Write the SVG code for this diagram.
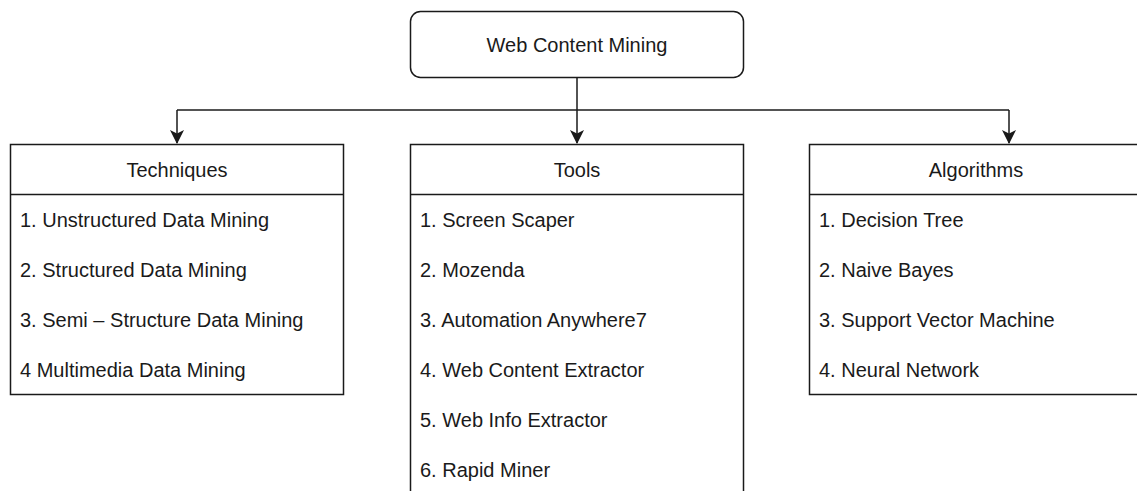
<svg xmlns="http://www.w3.org/2000/svg" width="1137" height="491" viewBox="0 0 1137 491">
<style>
.box{fill:#fff;stroke:#1a1a1a;stroke-width:1.5}
.ln{fill:none;stroke:#1a1a1a;stroke-width:1.5}
text{font-family:"Liberation Sans",Arial,sans-serif;font-size:20px;fill:#1a1a1a}
.c{text-anchor:middle}
</style>
<defs>
<marker id="arr" viewBox="0 0 14 14" refX="13" refY="7" markerWidth="14" markerHeight="14" markerUnits="userSpaceOnUse" orient="auto">
<path d="M0,0 L14,7 L0,14 L3.5,7 Z" fill="#1a1a1a"/>
</marker>
</defs>
<g id="connectors">
<path class="ln" d="M577,78 V143" marker-end="url(#arr)"/>
<path class="ln" d="M177,110 H1009"/>
<path class="ln" d="M177,110 V143" marker-end="url(#arr)"/>
<path class="ln" d="M1009,110 V143" marker-end="url(#arr)"/>
</g>
<g id="web-content-mining">
<rect class="box" x="410.5" y="11.5" width="333" height="66" rx="10"/>
<text class="c" x="577" y="52">Web Content Mining</text>
</g>
<g id="techniques">
<rect class="box" x="10.5" y="144.5" width="333" height="250"/>
<line class="ln" x1="10.5" y1="194.5" x2="343.5" y2="194.5"/>
<text class="c" x="177" y="177">Techniques</text>
<text x="20" y="227">1. Unstructured Data Mining</text>
<text x="20" y="277">2. Structured Data Mining</text>
<text x="20" y="327">3. Semi – Structure Data Mining</text>
<text x="20" y="377">4 Multimedia Data Mining</text>
</g>
<g id="tools">
<rect class="box" x="410.5" y="144.5" width="333" height="370"/>
<line class="ln" x1="410.5" y1="194.5" x2="743.5" y2="194.5"/>
<text class="c" x="577" y="177">Tools</text>
<text x="420" y="227">1. Screen Scaper</text>
<text x="420" y="277">2. Mozenda</text>
<text x="420" y="327">3. Automation Anywhere7</text>
<text x="420" y="377">4. Web Content Extractor</text>
<text x="420" y="427">5. Web Info Extractor</text>
<text x="420" y="477">6. Rapid Miner</text>
</g>
<g id="algorithms">
<rect class="box" x="809.5" y="144.5" width="333" height="250"/>
<line class="ln" x1="809.5" y1="194.5" x2="1142.5" y2="194.5"/>
<text class="c" x="976" y="177">Algorithms</text>
<text x="819" y="227">1. Decision Tree</text>
<text x="819" y="277">2. Naive Bayes</text>
<text x="819" y="327">3. Support Vector Machine</text>
<text x="819" y="377">4. Neural Network</text>
</g>
</svg>
